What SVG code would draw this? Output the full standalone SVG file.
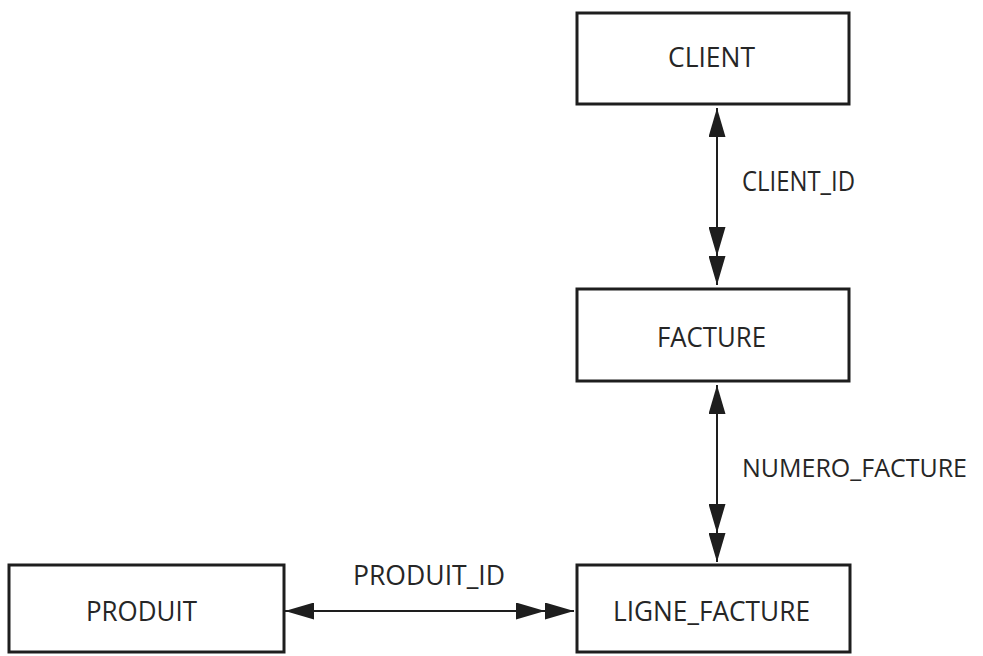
<svg xmlns="http://www.w3.org/2000/svg" width="983" height="656" viewBox="0 0 983 656">
<style>
.box{fill:#fff;stroke:#1e1e1e;stroke-width:3}
.t{font-family:"Open Sans","Liberation Sans",sans-serif;font-size:27px;fill:#262626}
.c{stroke:#1e1e1e;stroke-width:2;fill:none}
</style>
<defs>
<marker id="h1" viewBox="0 0 29 17" refX="29" refY="8.5" markerWidth="29" markerHeight="17" markerUnits="userSpaceOnUse" orient="auto-start-reverse">
<path d="M0,0 L29,8.5 L0,17 Z" fill="#1e1e1e"/>
</marker>
<marker id="h2" viewBox="0 0 58 17" refX="58" refY="8.5" markerWidth="58" markerHeight="17" markerUnits="userSpaceOnUse" orient="auto">
<path d="M0,0 L29,8.5 L0,17 Z M29,0 L58,8.5 L29,17 Z" fill="#1e1e1e"/>
</marker>
</defs>
<rect width="983" height="656" fill="#fff"/>
<g id="connectors">
<path class="c" d="M717,108 L717,285" marker-start="url(#h1)" marker-end="url(#h2)"/>
<path class="c" d="M717,385 L717,562" marker-start="url(#h1)" marker-end="url(#h2)"/>
<path class="c" d="M285,611 L574,611" marker-start="url(#h1)" marker-end="url(#h2)"/>
<text class="t" x="742" y="191" textLength="113" lengthAdjust="spacingAndGlyphs">CLIENT_ID</text>
<text class="t" x="742" y="477" style="font-size:25px" textLength="225" lengthAdjust="spacingAndGlyphs">NUMERO_FACTURE</text>
<text class="t" x="353" y="585" textLength="152" lengthAdjust="spacingAndGlyphs">PRODUIT_ID</text>
</g>
<g id="client">
<rect class="box" x="577" y="13" width="272" height="91"/>
<text class="t" x="668" y="67" textLength="87" lengthAdjust="spacingAndGlyphs">CLIENT</text>
</g>
<g id="facture">
<rect class="box" x="577" y="289" width="272" height="92"/>
<text class="t" x="657" y="347" textLength="109" lengthAdjust="spacingAndGlyphs">FACTURE</text>
</g>
<g id="ligne_facture">
<rect class="box" x="577" y="565" width="273" height="87"/>
<text class="t" x="613" y="621" textLength="197" lengthAdjust="spacingAndGlyphs">LIGNE_FACTURE</text>
</g>
<g id="produit">
<rect class="box" x="9" y="565" width="275" height="87"/>
<text class="t" x="86" y="621" textLength="111" lengthAdjust="spacingAndGlyphs">PRODUIT</text>
</g>
</svg>
